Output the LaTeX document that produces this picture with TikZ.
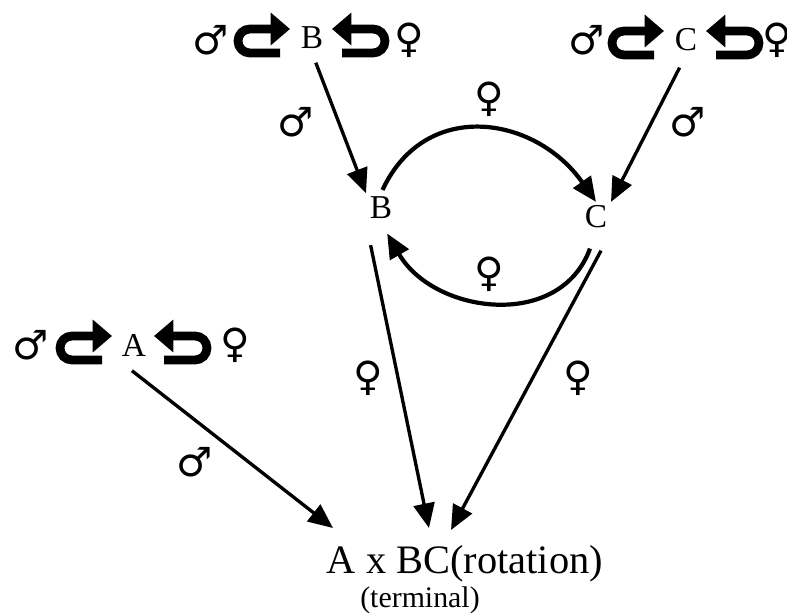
\documentclass[tikz,border=0pt]{standalone}
\usepackage{fontspec}
\setmainfont{Liberation Serif}
\newfontfamily\symfont{DejaVu Sans}
\usetikzlibrary{
  arrows.meta,
  positioning
}
\newcommand{\malesign}{{\symfont ♂}}
\newcommand{\femalesign}{{\symfont ♀}}
\tikzset{
  letter/.style={font=\fontsize{19}{22}\selectfont,inner sep=2pt},
  sexsign/.style={font=\fontsize{23}{26}\selectfont,inner sep=0pt},
  crossarrow/.style={-{Triangle[length=14pt,width=12pt]},line width=1.9pt},
  backarrow/.style={-{Triangle[length=14pt,width=12pt]},line width=2.4pt},
  selfarrow/.style={-{Triangle[length=11pt,width=18pt]},line width=5pt,rounded corners=0.24cm}
}

\begin{document}
\begin{tikzpicture}[x=0.02cm,y=-0.02cm]
\useasboundingbox (0,0) rectangle (787,615);
% parents, each crossed with itself
\node[letter] (Btop) at (312,38) {B};
\node[letter] (Ctop) at (686,40) {C};
\node[letter] (Atop) at (134,345) {A};
\node[sexsign] (Bmale) at (211,40) {\malesign};
\node[sexsign] (Bfem) at (409,40) {\femalesign};
\node[sexsign] (Cmale) at (587,40) {\malesign};
\node[sexsign] (Cfem) at (777,40) {\femalesign};
\node[sexsign] (Amale) at (31,345) {\malesign};
\node[sexsign] (Afem) at (235,345) {\femalesign};
\foreach \n in {Atop,Btop,Ctop}{
  \draw[selfarrow] ([shift={(-32,15)}]\n.center) -- ++(-42,0) -- ++(0,-24) -- ++(52,0);
  \draw[selfarrow] ([shift={(30,15)}]\n.center) -- ++(43,0) -- ++(0,-24) -- ++(-53,0);
}
% rotation between B and C
\node[letter] (Bmid) at (381,208) {B};
\node[letter] (Cmid) at (596,217) {C};
\node[font=\fontsize{23}{27}\selectfont,inner sep=0pt,anchor=base] (res) at (465,573) {A x BC(rotation)};
\node[font=\fontsize{17}{20}\selectfont,inner sep=0pt,anchor=base] (term) at (420,607) {(terminal)};
\coordinate (tipA) at (333,528);
\coordinate (tipB) at (429,528);
\coordinate (tipC) at (451,530);
\draw[crossarrow,shorten <=6pt] (Btop.south) -- (Bmid.north west);
\draw[crossarrow,shorten <=8pt] (Ctop.south) -- (Cmid.north east);
\draw[backarrow,shorten <=2pt] (Bmid.north) to[out=65,in=125,looseness=1.25] (Cmid.north);
\draw[backarrow,shorten <=10pt,shorten >=7pt] (Cmid.south) to[out=-110,in=-60,looseness=1.25] (Bmid.south);
\draw[crossarrow,shorten <=13pt] (Bmid.south west) -- (tipB);
\draw[crossarrow,shorten <=12pt] (Cmid.south east) -- (tipC);
\draw[crossarrow,shorten <=10pt] (Atop.south west) -- (tipA);
% edge labels
\node[sexsign] (lbB) at (296,122) {\malesign};
\node[sexsign] (lbC) at (688,122) {\malesign};
\node[sexsign] (lbBC) at (489,99) {\femalesign};
\node[sexsign] (lbCB) at (489,274) {\femalesign};
\node[sexsign] (lbBr) at (368,378) {\femalesign};
\node[sexsign] (lbCr) at (578,378) {\femalesign};
\node[sexsign] (lbAr) at (195,462) {\malesign};
\end{tikzpicture}
\end{document}
